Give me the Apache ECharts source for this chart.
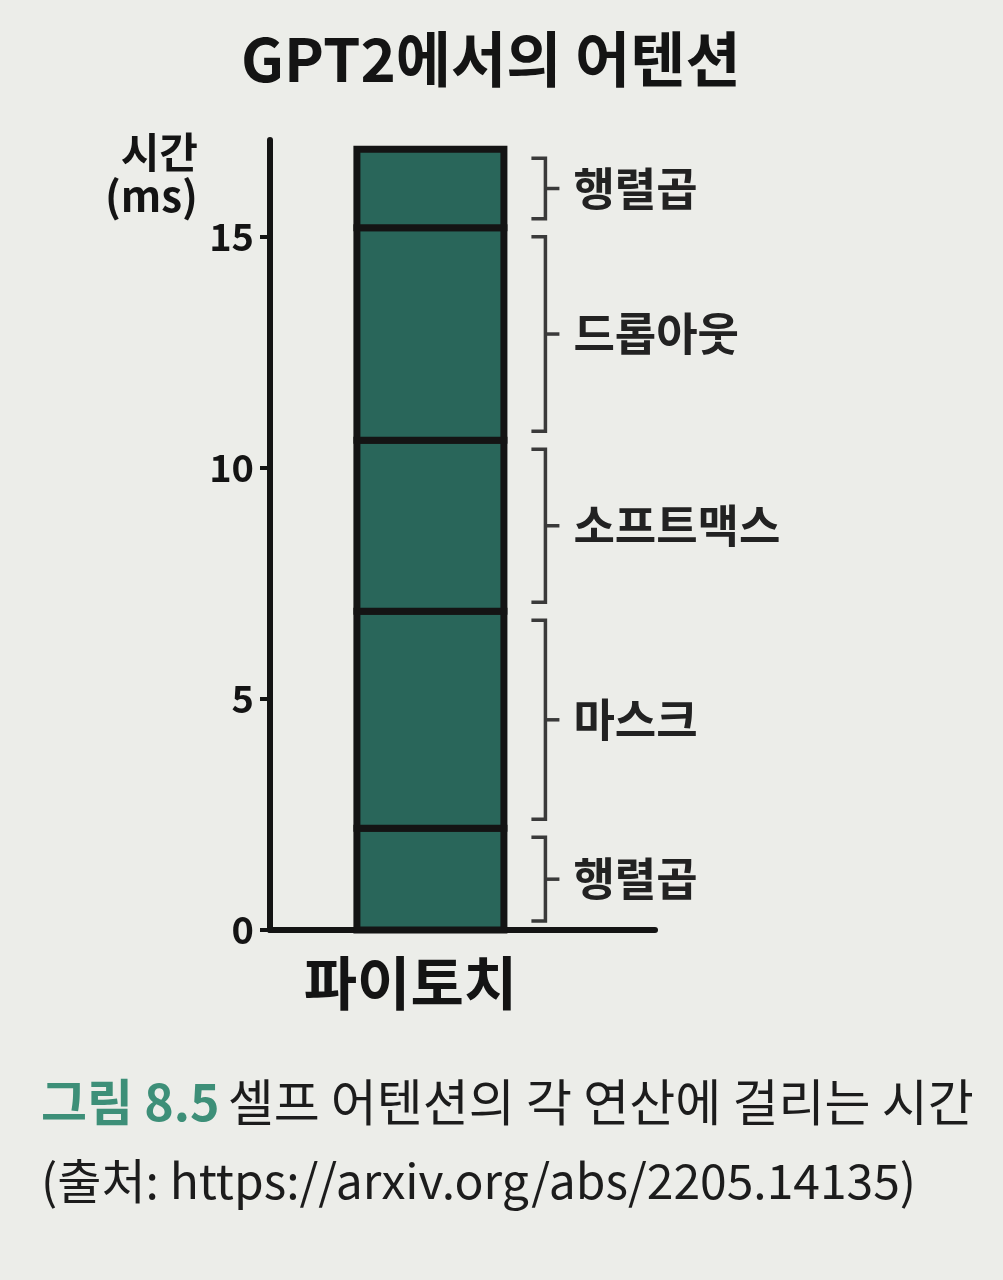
<!DOCTYPE html>
<html>
<head>
<meta charset="utf-8">
<script src="https://cdn.jsdelivr.net/npm/echarts@6/dist/echarts.min.js"></script>
<style>
  html, body { margin: 0; padding: 0; background: #ecede9; }
  #chart { width: 1003px; height: 1280px; }
</style>
</head>
<body>
<div id="chart"></div>
<script>
// ---- data ----
const titleText = 'GPT2에서의 어텐션';
const yAxisName = '시간\n(ms)';
const xCategory = '파이토치';
const categories = ['행렬곱', '마스크', '소프트맥스', '드롭아웃', '행렬곱']; // bottom to top
const times = [2.2, 4.7, 3.7, 4.6, 1.7]; // ms
const yTicks = [0, 5, 10, 15];
const captionLabel = '그림 8.5';
const captionText = '셀프 어텐션의 각 연산에 걸리는 시간';
const sourceText = '(출처: https://arxiv.org/abs/2205.14135)';

// ---- derived (stacking) ----
const ends = [];
times.reduce((acc, v, i) => { ends[i] = acc + v; return ends[i]; }, 0);
const starts = ends.map((e, i) => e - times[i]);

// ---- layout / style ----
const FONT = "'Noto Sans CJK KR', 'Noto Sans', sans-serif";
const INK = '#141414';
const BAR_COLOR = '#29665a';
const BAR_X = 4;
const BAR_W = 147;

const chart = echarts.init(document.getElementById('chart'), null, { renderer: 'canvas' });

const segmentData = categories.map((name, i) => [BAR_X, starts[i], ends[i], i]);

const barSeries = {
  type: 'custom',
  name: xCategory,
  coordinateSystem: 'cartesian2d',
  data: segmentData,
  encode: { x: 0, y: [1, 2] },
  z: 2,
  renderItem: function (params, api) {
    const cx = api.coord([api.value(0), 0])[0];
    const yTop = api.coord([0, api.value(2)])[1];
    const yBot = api.coord([0, api.value(1)])[1];
    return {
      type: 'rect',
      shape: { x: cx - BAR_W / 2, y: yTop, width: BAR_W, height: yBot - yTop },
      style: { fill: BAR_COLOR, stroke: INK, lineWidth: 7 }
    };
  }
};

const bracketSeries = {
  type: 'custom',
  coordinateSystem: 'cartesian2d',
  data: segmentData,
  encode: { x: 0, y: [1, 2] },
  z: 3,
  renderItem: function (params, api) {
    const idx = api.value(3);
    const cx = api.coord([api.value(0), 0])[0];
    const yTop = api.coord([0, api.value(2)])[1] + 9;
    const yBot = api.coord([0, api.value(1)])[1] - 9;
    const vx = cx + 115;
    const mid = (yTop + yBot) / 2;
    const lineStyle = { stroke: '#3a3a3a', lineWidth: 3.5, fill: null };
    return {
      type: 'group',
      children: [
        { type: 'polyline', shape: { points: [[vx - 14, yTop], [vx, yTop], [vx, yBot], [vx - 14, yBot]] }, style: lineStyle },
        { type: 'line', shape: { x1: vx, y1: mid, x2: vx + 14, y2: mid }, style: lineStyle },
        { type: 'text', style: {
            text: categories[idx], x: vx + 28, y: mid,
            align: 'left', verticalAlign: 'middle',
            fontSize: 45, fontWeight: 'bold', fontFamily: FONT, fill: '#222'
        } }
      ]
    };
  }
};

const option = {
  backgroundColor: '#ecede9',
  animation: false,
  title: [
    {
      text: titleText, left: 236, top: 24,
      textStyle: { fontSize: 60, fontWeight: 'bold', color: INK, fontFamily: FONT }
    },
    {
      text: '{a|' + captionLabel + '}  {b|' + captionText + '}',
      left: 36, top: 1072,
      textStyle: {
        fontFamily: FONT, fontWeight: 'normal',
        rich: {
          a: { fontSize: 50, fontWeight: 'bold', color: '#3d8f78', fontFamily: FONT },
          b: { fontSize: 50, fontWeight: 'normal', color: '#1c1c1c', fontFamily: FONT }
        }
      }
    },
    {
      text: sourceText, left: 36, top: 1152,
      textStyle: { fontSize: 48, fontWeight: 'normal', color: '#1c1c1c', fontFamily: FONT }
    }
  ],
  grid: { left: 270, right: 348, top: 140, bottom: 350, containLabel: false },
  xAxis: {
    type: 'value',
    min: 0, max: 9.6,
    axisLine: { show: true, lineStyle: { color: INK, width: 6 } },
    axisTick: { show: false },
    splitLine: { show: false },
    axisLabel: {
      customValues: [BAR_X],
      formatter: () => xCategory,
      margin: 24,
      padding: [0, 40, 0, 0],
      fontSize: 58, fontWeight: 'bold', color: INK, fontFamily: FONT
    }
  },
  yAxis: {
    type: 'value',
    min: 0, max: 17.1,
    name: yAxisName,
    nameLocation: 'end',
    nameGap: -2,
    nameTextStyle: {
      align: 'right', verticalAlign: 'top',
      padding: [0, 72, 0, 0],
      fontSize: 42, fontWeight: 'bold', color: INK, fontFamily: FONT, lineHeight: 44
    },
    axisLine: { show: true, lineStyle: { color: INK, width: 6 } },
    axisTick: { show: true, customValues: yTicks, length: 10, lineStyle: { color: INK, width: 4 } },
    splitLine: { show: false },
    axisLabel: {
      customValues: yTicks,
      margin: 16,
      fontSize: 38, fontWeight: 'bold', color: INK, fontFamily: FONT
    }
  },
  series: [barSeries, bracketSeries]
};

chart.setOption(option);
</script>
</body>
</html>
